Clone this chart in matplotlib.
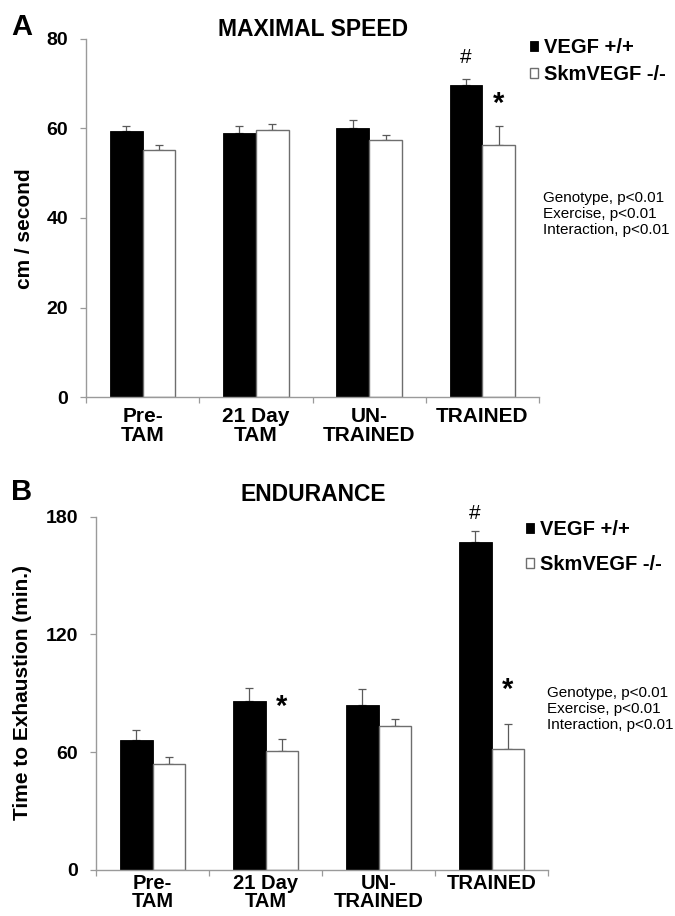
import matplotlib
matplotlib.use("Agg")
import matplotlib.pyplot as plt
import numpy as np
from matplotlib.ticker import FixedLocator

plt.rcParams['font.family'] = ['Liberation Sans', 'DejaVu Sans']

categories = ["Pre-\nTAM", "21 Day\nTAM", "UN-\nTRAINED", "TRAINED"]
series_names = ["VEGF +/+", "SkmVEGF -/-"]

speed_wt = [59.4, 59.1, 60.2, 69.8]
speed_wt_err = [1.2, 1.4, 1.6, 1.2]
speed_ko = [55.3, 59.7, 57.5, 56.3]
speed_ko_err = [1.1, 1.2, 1.0, 4.3]

endur_wt = [66.2, 86.3, 84.1, 167.2]
endur_wt_err = [5.1, 6.4, 8.2, 5.5]
endur_ko = [53.8, 60.4, 73.5, 61.5]
endur_ko_err = [3.6, 6.2, 3.3, 12.9]

stats_text = "Genotype, p<0.01\nExercise, p<0.01\nInteraction, p<0.01"

W, H = 675, 916
fig = plt.figure(figsize=(W / 100, H / 100), dpi=100)

def px_rect(left, top, right, bottom):
    return [left / W, 1 - bottom / H, (right - left) / W, (bottom - top) / H]

BW = 0.29
SPINE = "#9a9a9a"
ERR = "#5a5a5a"

def draw_panel(rect, wt, wt_err, ko, ko_err, ymax, yticks, ylabel, title,
               letter, letter_xy, title_y, ylabel_xy, xl_size, xl_ls, xl_pad):
    ax = fig.add_axes(rect)
    x = np.arange(len(categories))
    b1 = ax.bar(x - BW / 2, wt, BW, color="black", edgecolor="black",
                linewidth=0.6, zorder=2, label=series_names[0])
    b2 = ax.bar(x + BW / 2, ko, BW, color="white", edgecolor="#6e6e6e",
                linewidth=1.0, zorder=2, label=series_names[1])
    ax.errorbar(x - BW / 2, wt, yerr=[np.zeros(len(wt)), wt_err], fmt="none",
                ecolor=ERR, elinewidth=0.9, capsize=2.6, capthick=0.9, zorder=1)
    ax.errorbar(x + BW / 2, ko, yerr=[np.zeros(len(ko)), ko_err], fmt="none",
                ecolor=ERR, elinewidth=0.9, capsize=2.6, capthick=0.9, zorder=1)
    ax.set_xlim(-0.5, len(categories) - 0.5)
    ax.set_ylim(0, ymax)
    ax.set_yticks(yticks)
    ax.set_yticklabels([str(t) for t in yticks], fontsize=14, fontweight="bold")
    ax.set_xticks(x)
    ax.set_xticklabels(categories, fontsize=xl_size, fontweight="bold",
                       linespacing=xl_ls)
    ax.xaxis.set_minor_locator(FixedLocator(np.arange(-0.5, len(categories), 1.0)))
    ax.tick_params(axis="x", which="major", length=0, pad=xl_pad)
    ax.tick_params(axis="x", which="minor", length=4, color=SPINE, width=0.9)
    ax.tick_params(axis="y", length=4, color=SPINE, width=0.9, pad=9)
    for s in ["top", "right"]:
        ax.spines[s].set_visible(False)
    for s in ["left", "bottom"]:
        ax.spines[s].set_color(SPINE)
        ax.spines[s].set_linewidth(1.0)
    ax.set_facecolor("none")
    fig.text(ylabel_xy[0] / W, 1 - ylabel_xy[1] / H, ylabel, rotation=90,
             ha="center", va="center", fontsize=15, fontweight="bold")
    fig.text(313 / W, 1 - title_y / H, title, ha="center", va="center",
             fontsize=16.5, fontweight="bold")
    fig.text(letter_xy[0] / W, 1 - letter_xy[1] / H, letter, ha="left",
             va="center", fontsize=21, fontweight="bold")
    return ax, (b1, b2)

# Panel A
axA, hA = draw_panel(px_rect(86, 39, 539, 397), speed_wt, speed_wt_err,
                     speed_ko, speed_ko_err, 80, [0, 20, 40, 60, 80],
                     "cm / second", "MAXIMAL SPEED", "A", (11, 27), 29, (25, 229),
                     15, 1.05, 7)
axA.text(3 - BW / 2, 75.8, "#", ha="center", va="center", fontsize=15)
axA.text(3 + BW / 2, 65.5, "*", ha="center", va="center", fontsize=21,
         fontweight="bold")
legA = axA.legend(handles=list(hA), labels=series_names, loc="upper left",
                  bbox_to_anchor=(530 / W, 1 - 38 / H),
                  bbox_transform=fig.transFigure, frameon=False, borderpad=0,
                  borderaxespad=0, handlelength=0.38, handleheight=0.38,
                  handletextpad=0.3, labelspacing=0.4,
                  prop={"weight": "bold", "size": 14.5})
fig.text(543 / W, 1 - 214 / H, stats_text, ha="left", va="center",
         fontsize=11, linespacing=1.15)

# Panel B
axB, hB = draw_panel(px_rect(96, 516.7, 548, 870), endur_wt, endur_wt_err,
                     endur_ko, endur_ko_err, 180, [0, 60, 120, 180],
                     "Time to Exhaustion (min.)", "ENDURANCE", "B", (11, 492),
                     495, (23, 692), 14.5, 0.95, 3)
axB.text(3 - BW / 2, 181.5, "#", ha="center", va="center", fontsize=15)
axB.text(3 + BW / 2, 91.5, "*", ha="center", va="center", fontsize=21,
         fontweight="bold")
axB.text(1 + BW / 2, 83.0, "*", ha="center", va="center", fontsize=21,
         fontweight="bold")
legB = axB.legend(handles=list(hB), labels=series_names, loc="upper left",
                  bbox_to_anchor=(526 / W, 1 - 520 / H),
                  bbox_transform=fig.transFigure, frameon=False, borderpad=0,
                  borderaxespad=0, handlelength=0.38, handleheight=0.38,
                  handletextpad=0.3, labelspacing=0.8,
                  prop={"weight": "bold", "size": 14.5})
fig.text(547 / W, 1 - 709 / H, stats_text, ha="left", va="center",
         fontsize=11, linespacing=1.15)

fig.savefig("out.png", dpi=100, facecolor="white")
